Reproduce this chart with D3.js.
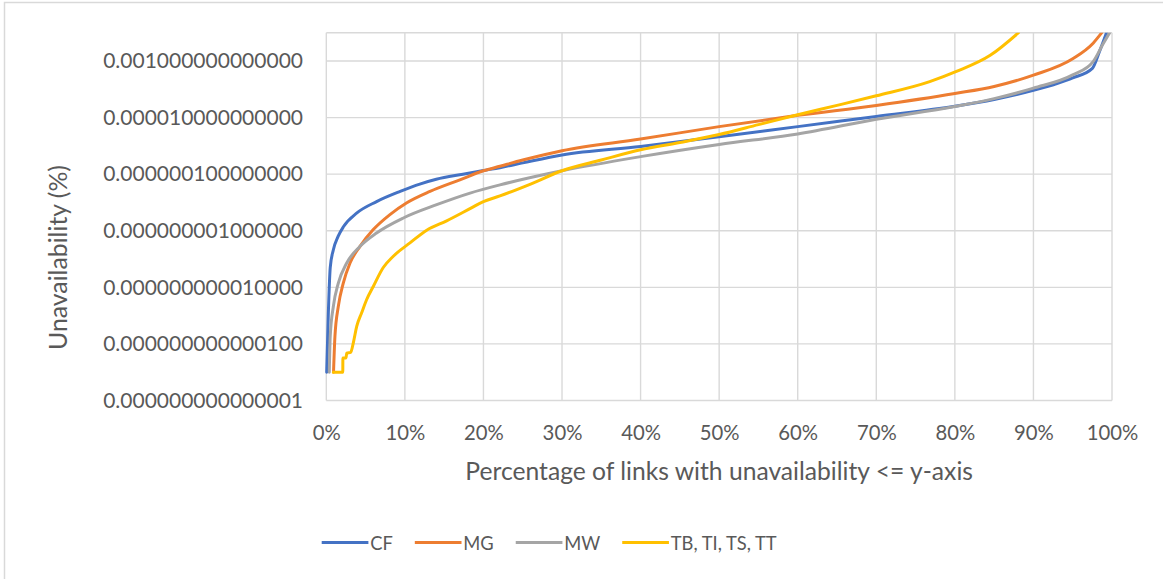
<!DOCTYPE html>
<html>
<head>
<meta charset="utf-8">
<script src="https://cdn.jsdelivr.net/npm/d3@7"></script>
<style>
  html, body { margin: 0; padding: 0; background: #fff; }
  svg { display: block; }
  text { font-family: Lato, "Open Sans", sans-serif; fill: #595959; }
</style>
</head>
<body>
<svg id="chart" width="1163" height="579"></svg>
<script>
// ---------- DATA ----------
// x: percentage of links (%), e: log10 of unavailability (%)
const seriesNames = ["CF", "MG", "MW", "TB, TI, TS, TT"];
const seriesColors = ["#4472C4", "#ED7D31", "#A5A5A5", "#FFC000"];

const cfData = [
  [0.05,-14],[0.25,-12.0],[0.5,-10.3],[0.9,-9.67],[1.5,-9.2],[2.2,-8.85],[3.9,-8.37],
  [6.4,-7.97],[9.4,-7.61],[11.9,-7.35],[14.0,-7.18],[17.4,-7.0],[20,-6.87],[22.1,-6.77],
  [25,-6.6],[30,-6.32],[40,-6.02],[50,-5.68],[60,-5.32],[70,-4.96],[80,-4.6],[85,-4.36],
  [90,-4.04],[93,-3.8],[95,-3.6],[97.5,-3.26],[98.4,-2.67],[99.3,-2.0]
];
const mgData = [
  [0.92,-14],[1.1,-12.73],[1.53,-11.67],[2.16,-10.85],[3.02,-10.14],[4.29,-9.55],[5.98,-8.96],
  [8.1,-8.43],[10.2,-8.02],[13.2,-7.61],[17.0,-7.2],[20,-6.88],[22.1,-6.72],[25,-6.5],
  [30,-6.17],[40,-5.76],[50,-5.32],[60,-4.92],[70,-4.57],[80,-4.15],[85,-3.9],[90,-3.5],
  [95,-2.92],[97.6,-2.37],[98.7,-2.0]
];
const mwData = [
  [0.38,-14],[0.5,-12.73],[0.9,-11.67],[1.53,-10.85],[2.6,-10.14],[4.3,-9.55],[6.4,-9.08],
  [9.8,-8.55],[14.05,-8.08],[18.3,-7.67],[22.1,-7.38],[30,-6.88],[40,-6.38],[50,-5.95],
  [60,-5.58],[70,-5.06],[80,-4.61],[85,-4.33],[90,-3.96],[95,-3.49],[97.6,-3.02],
  [98.8,-2.43],[99.7,-2.0]
];
const tbData = [
  [0.89,-14],[2.1,-14],[2.11,-13.5],[2.5,-13.5],[2.6,-13.33],[3.1,-13.3],[3.44,-12.96],
  [3.87,-12.38],[4.5,-11.9],[5.14,-11.43],[5.98,-10.97],[7.25,-10.3],[8.53,-9.9],
  [10.65,-9.43],[12.78,-8.98],[15.32,-8.65],[18.29,-8.22],[20,-7.97],[22.1,-7.77],
  [26,-7.35],[30,-6.88],[35,-6.5],[40,-6.14],[45,-5.88],[50,-5.6],[55,-5.25],[60,-4.9],
  [65,-4.57],[70,-4.23],[76.8,-3.73],[80.2,-3.37],[84.5,-2.8],[88.1,-2.0]
];
const allSeries = [cfData, mgData, mwData, tbData];

const yTickValues = [1e-15, 1e-13, 1e-11, 1e-9, 1e-7, 1e-5, 1e-3];
const xTickValues = [0, 10, 20, 30, 40, 50, 60, 70, 80, 90, 100];
const yDomain = [1e-15, 1e-2];
const xDomain = [0, 100];
const xTitle = "Percentage of links with unavailability <= y-axis";
const yTitle = "Unavailability (%)";

// ---------- LAYOUT ----------
const svg = d3.select("#chart");
const plot = { left: 326.3, right: 1112, top: 32.7, bottom: 400.5 };

const x = d3.scaleLinear().domain(xDomain).range([plot.left, plot.right]);
const y = d3.scaleLog().domain(yDomain).range([plot.bottom, plot.top]);

// outer chart border
svg.append("rect").attr("x", 4.5).attr("y", 2.5).attr("width", 1400).attr("height", 800)
  .attr("fill", "none").attr("stroke", "#d9d9d9").attr("stroke-width", 1.5);

function fit(sel, target) {
  const w = sel.node().getComputedTextLength();
  const fs = parseFloat(sel.attr("font-size"));
  return fs * target / w;
}

// gridlines
const grid = svg.append("g").attr("stroke", "#d9d9d9").attr("stroke-width", 1.4);
grid.selectAll("line.h").data(yTickValues.concat([yDomain[1]])).join("line")
  .attr("x1", plot.left).attr("x2", plot.right)
  .attr("y1", d => y(d)).attr("y2", d => y(d));
grid.selectAll("line.v").data(xTickValues).join("line")
  .attr("x1", d => x(d)).attr("x2", d => x(d))
  .attr("y1", plot.top).attr("y2", plot.bottom);

// y tick labels
const yAxis = d3.axisLeft(y).tickValues(yTickValues).tickFormat(d => d.toFixed(15)).tickSize(0).tickPadding(0);
const yg = svg.append("g").attr("transform", `translate(303,0)`).call(yAxis);
yg.select(".domain").remove();
yg.selectAll("text").attr("font-family", "Lato, sans-serif").attr("font-size", 20).attr("fill", "#595959");
const yfs = fit(yg.select("text"), 200);
yg.selectAll("text").attr("font-size", yfs);

// x tick labels
const xAxis = d3.axisBottom(x).tickValues(xTickValues).tickFormat(d => d + "%").tickSize(0).tickPadding(0);
const xg = svg.append("g").call(xAxis);
xg.select(".domain").remove();
xg.selectAll("text").attr("font-family", "Lato, sans-serif").attr("font-size", 20).attr("fill", "#595959")
  .attr("dy", null).attr("y", 440);
const xfs = fit(xg.selectAll("text").filter(d => d === 100), 51.6);
xg.selectAll("text").attr("font-size", xfs);

// x title
const xt = svg.append("text").attr("x", (plot.left + plot.right) / 2).attr("y", 479.5)
  .attr("text-anchor", "middle").attr("font-size", 20).text(xTitle);
xt.attr("font-size", fit(xt, 508));

// y title
const yt = svg.append("text").attr("transform", "translate(67,257.5) rotate(-90)")
  .attr("text-anchor", "middle").attr("font-size", 20).text(yTitle);
yt.attr("font-size", fit(yt, 185));

// clip
svg.append("clipPath").attr("id", "clip").append("rect")
  .attr("x", plot.left - 3).attr("y", plot.top).attr("width", plot.right - plot.left + 6)
  .attr("height", plot.bottom - plot.top);

const line = d3.line().x(d => x(d[0])).y(d => y(Math.pow(10, d[1]))).curve(d3.curveMonotoneX);
const lines = svg.append("g").attr("clip-path", "url(#clip)");
allSeries.forEach((s, i) => {
  lines.append("path").datum(s)
    .attr("d", line)
    .attr("fill", "none").attr("stroke", seriesColors[i]).attr("stroke-width", 3)
    .attr("stroke-linejoin", "round").attr("stroke-linecap", "round");
});

// legend
const legend = svg.append("g");
let lx = 321.7;
const ly = 542.5;
const items = [];
seriesNames.forEach((name, i) => {
  const g = legend.append("g");
  g.append("line").attr("x1", lx).attr("x2", lx + 46.7).attr("y1", ly).attr("y2", ly)
    .attr("stroke", seriesColors[i]).attr("stroke-width", 3);
  const t = g.append("text").attr("x", lx + 48.5).attr("y", 550).attr("font-size", 20).text(name);
  items.push(t);
});
const lfs = fit(items[3], 106);
lx = 321.7;
legend.selectAll("g").each(function() {
  const g = d3.select(this);
  g.select("line").attr("x1", lx).attr("x2", lx + 46.7);
  const t = g.select("text").attr("font-size", lfs).attr("x", lx + 48.5);
  lx += 48.5 + t.node().getComputedTextLength() + 22;
});
</script>
</body>
</html>
